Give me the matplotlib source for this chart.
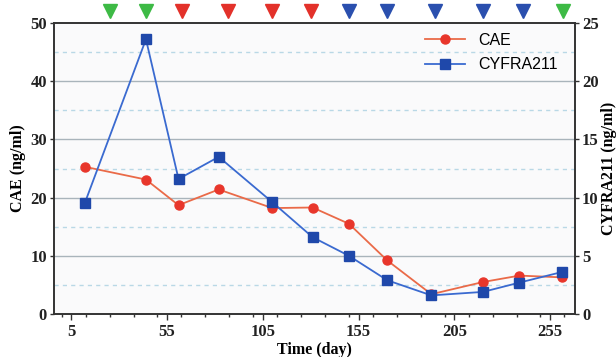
import matplotlib
matplotlib.use("Agg")
import matplotlib.pyplot as plt
from matplotlib.ticker import MultipleLocator
import matplotlib.transforms as mtransforms

# Data
days = [12, 44, 61, 82, 110, 131, 150, 170, 193, 220, 239, 261]
cae = [25.3, 23.1, 18.7, 21.4, 18.2, 18.3, 15.5, 9.2, 3.4, 5.5, 6.6, 6.3]
cyfra = [9.5, 23.6, 11.6, 13.5, 9.6, 6.6, 5.0, 2.9, 1.6, 1.9, 2.7, 3.6]

# treatment markers above the plot
event_days = [25, 44, 63, 87, 110, 130, 150, 170, 195, 220, 241, 262]
event_colors = ["green", "green", "red", "red", "red", "red",
                "blue", "blue", "blue", "blue", "blue", "green"]
palette = {"green": "#3dba45", "red": "#e3312a", "blue": "#2a4fae"}

serif = "Liberation Serif"

fig = plt.figure(figsize=(6.16, 3.57), dpi=100)
ax = fig.add_axes([0.0877, 0.1204, 0.8457, 0.8152])
ax.set_facecolor("#fafafb")

ax.set_xlim(-4, 268)
ax.set_ylim(0, 50)
ax.xaxis.set_minor_locator(MultipleLocator(12.5))
ax.set_xticks([5, 55, 105, 155, 205, 255])
ax.yaxis.set_major_locator(MultipleLocator(10))

# grid lines
for yv in [10, 20, 30, 40]:
    ax.axhline(yv, color="#a9b4bb", lw=1.0, zorder=1)
for yv in [5, 15, 25, 35, 45]:
    ax.axhline(yv, color="#b9d8e6", lw=1.0, ls=(0, (3, 3)), zorder=1)

l1, = ax.plot(days, cae, color="#ea6a48", lw=1.3, marker="o", ms=6.5,
              mfc="#e8362b", mec="#e8362b", label="CAE", zorder=3)

ax2 = ax.twinx()
ax2.set_ylim(0, 25)
ax2.yaxis.set_major_locator(MultipleLocator(5))
l2, = ax2.plot(days, cyfra, color="#3a6ad0", lw=1.3, marker="s", ms=6.5,
               mfc="#1f48aa", mec="#1f48aa", label="CYFRA211", zorder=3)

for a in (ax, ax2):
    for s in a.spines.values():
        s.set_color("#333333")
        s.set_linewidth(1.2)

ax.tick_params(axis="x", which="major", length=4, width=1, direction="out", colors="#333333")
ax.tick_params(axis="x", which="minor", length=2.5, width=1, direction="out", colors="#333333")
ax.tick_params(axis="y", length=3, width=1, direction="out", colors="#333333", pad=2)
ax2.tick_params(axis="y", length=3, width=1, direction="out", colors="#333333", pad=2)
for lab in ax.get_xticklabels() + ax.get_yticklabels() + ax2.get_yticklabels():
    lab.set_fontfamily(serif)
    lab.set_fontweight("bold")
    lab.set_fontsize(12)
    lab.set_color("#222222")

ax.set_xlabel("Time (day)", fontfamily=serif, fontweight="bold", fontsize=11.5, labelpad=1)
ax.set_ylabel("CAE (ng/ml)", fontfamily=serif, fontweight="bold", fontsize=11.5, labelpad=3)
ax2.set_ylabel("CYFRA211 (ng/ml)", fontfamily=serif, fontweight="bold", fontsize=11.5, labelpad=2)

leg = ax2.legend(handles=[l1, l2], loc="upper right", frameon=False,
                 prop={"family": "Liberation Sans", "size": 11.5},
                 handlelength=2.5, borderaxespad=0.2, labelspacing=0.6,
                 bbox_to_anchor=(0.985, 1.0))

# triangles above the plot
trans = mtransforms.blended_transform_factory(ax.transData, ax.transAxes)
for d, c in zip(event_days, event_colors):
    ax.plot(d, 1.04, marker="v", ms=10, color=palette[c], transform=trans,
            clip_on=False, zorder=5)

fig.savefig("out.png", dpi=100)
